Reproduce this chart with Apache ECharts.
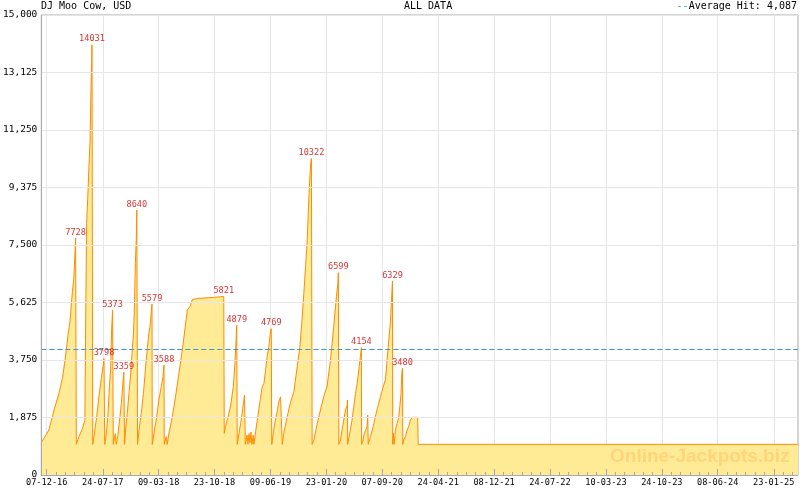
<!DOCTYPE html>
<html><head><meta charset="utf-8">
<script src="https://cdn.jsdelivr.net/npm/echarts@6/dist/echarts.min.js"></script>
<style>html,body{margin:0;padding:0;background:#fff}#c{width:800px;height:490px}</style>
</head><body><div id="c"></div>
<script>
const chartTitle = 'DJ Moo Cow, USD';
const rangeTitle = 'ALL DATA';
const averageHit = 4087;

const dates = [
  '2016-11-17','2016-11-26','2016-12-16','2017-01-06','2017-01-26','2017-02-09','2017-02-20','2017-03-04','2017-03-12','2017-03-22','2017-03-28','2017-04-01','2017-04-04','2017-04-07',
  '2017-04-18','2017-05-02','2017-05-12','2017-05-15','2017-05-19','2017-05-25','2017-05-29','2017-06-02','2017-06-06','2017-06-10','2017-06-13',
  '2017-06-18','2017-06-29','2017-07-08','2017-07-18','2017-07-25','2017-07-29','2017-08-01',
  '2017-08-09','2017-08-14','2017-08-20','2017-08-25','2017-08-29','2017-09-02','2017-09-05',
  '2017-09-13','2017-09-17','2017-09-23','2017-10-02','2017-10-08','2017-10-13','2017-10-18','2017-10-21',
  '2017-10-25','2017-11-01','2017-11-08','2017-11-15','2017-11-22','2017-11-26','2017-11-30','2017-12-04','2017-12-08','2017-12-10','2017-12-13',
  '2017-12-19','2017-12-28','2018-01-06','2018-01-15','2018-01-22','2018-01-28','2018-02-02','2018-02-07','2018-02-10','2018-02-11',
  '2018-02-18','2018-03-01','2018-03-10','2018-03-20','2018-03-27','2018-03-31','2018-04-01','2018-04-09','2018-04-13',
  '2018-04-20','2018-05-04','2018-05-17','2018-05-31','2018-06-14','2018-06-24','2018-07-04','2018-07-15','2018-07-25','2018-08-19','2018-10-19','2018-11-30','2018-12-02',
  '2018-12-07','2018-12-14','2018-12-21','2018-12-28','2019-01-08','2019-01-14','2019-01-20','2019-01-22','2019-01-24',
  '2019-01-27','2019-01-31','2019-02-07','2019-02-13','2019-02-20','2019-02-23','2019-02-26',
  '2019-03-05','2019-03-09','2019-03-13','2019-03-17','2019-03-21','2019-03-25','2019-03-30','2019-04-02',
  '2019-04-09','2019-04-16','2019-04-22','2019-04-29','2019-05-06','2019-05-13','2019-05-20','2019-05-26','2019-06-02','2019-06-09','2019-06-12','2019-06-14',
  '2019-06-22','2019-06-29','2019-07-06','2019-07-13','2019-07-20','2019-07-24','2019-07-27',
  '2019-08-02','2019-08-16','2019-08-30','2019-09-12','2019-09-26','2019-10-07','2019-10-16','2019-10-23','2019-10-30','2019-11-06','2019-11-11','2019-11-16','2019-11-20','2019-11-23','2019-11-26',
  '2019-12-03','2019-12-17','2019-12-30','2020-01-12','2020-01-26','2020-02-09','2020-02-22','2020-03-04','2020-03-10','2020-03-12','2020-03-14',
  '2020-03-21','2020-03-27','2020-04-03','2020-04-10','2020-04-17','2020-04-18','2020-04-19',
  '2020-04-30','2020-05-07','2020-05-14','2020-05-21','2020-05-28','2020-06-05','2020-06-10','2020-06-14','2020-06-15',
  '2020-06-21','2020-06-26','2020-07-02','2020-07-07','2020-07-10','2020-07-12',
  '2020-07-21','2020-08-01','2020-08-10','2020-08-20','2020-08-31','2020-09-13','2020-09-20','2020-09-27','2020-10-04','2020-10-11','2020-10-15','2020-10-19','2020-10-20',
  '2020-10-23','2020-10-26','2020-10-31','2020-11-07','2020-11-13','2020-11-18','2020-11-23','2020-11-26','2020-11-29','2020-11-30',
  '2020-12-04','2020-12-11','2020-12-18','2020-12-24','2020-12-31','2021-01-07','2021-01-30','2021-02-01','2025-05-02'
];
const jackpot = [
  1080,1200,1470,2120,2660,3150,3750,4560,5000,5980,6450,7170,7728,1000,
  1250,1520,1790,4890,8200,9290,10160,10870,12660,14031,1000,
  1250,1900,2550,3150,3530,3798,1000,
  1470,1960,2880,3420,4730,5373,1000,
  1350,1000,1250,1900,2340,2880,3359,1000,
  1470,2010,2660,3320,4130,4560,5380,6900,7770,8640,1000,
  1470,2010,2660,3530,4130,4620,4840,5320,5579,1000,
  1360,1900,2450,2880,3210,3588,1000,1250,1000,
  1360,1900,2550,3320,4080,4730,5380,5490,5720,5760,5790,5821,1360,
  1575,1790,2010,2250,2880,3560,4510,4879,1000,
  1140,1140,1685,2010,2450,2608,1000,
  1300,1000,1350,1050,1400,1000,1300,1000,
  1410,1790,2120,2500,2880,2990,3420,3860,4180,4670,4769,1000,
  1470,1790,2060,2390,2550,2608,1000,
  1360,1900,2390,2700,3530,4180,5110,5920,6790,7660,8750,9620,10160,10322,1000,
  1140,1690,2120,2550,2900,3750,4840,5810,6250,6599,1000,
  1140,1470,1790,2120,2280,2445,1000,
  1470,1790,2230,2660,2990,3530,3860,4154,1000,
  1140,1360,1470,1575,1956,1000,
  1250,1575,1900,2230,2550,2930,3100,3750,4400,5050,5700,6329,1000,
  1360,1000,1470,1690,1850,2230,2660,3320,3480,1000,
  1140,1250,1470,1575,1790,1880,1880,1000,1000
];

const peakDates = ['2017-04-04','2017-06-10','2017-07-29','2017-09-02','2017-10-18','2017-12-10','2018-02-10','2018-03-31','2018-11-30','2019-01-22','2019-06-12','2019-11-23','2020-03-12','2020-06-14','2020-10-19','2020-11-29'];
const peakValues = [7728,14031,3798,5373,3359,8640,5579,3588,5821,4879,4769,10322,6599,4154,6329,3480];

const xTickDates = ['2016-12-07','2017-07-24','2018-03-09','2018-10-23','2019-06-09','2020-01-23','2020-09-07','2021-04-24','2021-12-08','2022-07-24','2023-03-10','2023-10-24','2024-06-08','2025-01-23'];
const xTickLabels = ['07-12-16','24-07-17','09-03-18','23-10-18','09-06-19','23-01-20','07-09-20','24-04-21','08-12-21','24-07-22','10-03-23','24-10-23','08-06-24','23-01-25'];
const xStart = '2016-11-15';
const xEnd = '2025-05-02';
const yMax = 15000;
const yStep = 1875;

function ts(s) { const p = s.split('-').map(Number); return Date.UTC(p[0], p[1] - 1, p[2]); }

const tickTs = xTickDates.map(ts);
const minorTs = [];
const minT = ts(xStart), maxT = ts(xEnd);
const avgGap = (tickTs[tickTs.length - 1] - tickTs[0]) / (tickTs.length - 1);
for (let i = -1; i < tickTs.length; i++) {
  const a = i < 0 ? tickTs[0] - avgGap : tickTs[i];
  const b = i + 1 < tickTs.length ? tickTs[i + 1] : tickTs[i] + avgGap;
  for (let k = 1; k < 6; k++) {
    const t = Math.round(a + (b - a) * k / 6);
    if (t > minT && t < maxT) minorTs.push(t);
  }
}

const mono = 'DejaVu Sans Mono';
const chart = echarts.init(document.getElementById('c'), null, { renderer: 'canvas' });
chart.setOption({
  animation: false,
  backgroundColor: '#ffffff',
  title: [
    { text: chartTitle, left: 41, top: 1, padding: 0, textStyle: { fontFamily: mono, fontSize: 10, fontWeight: 'normal', color: '#000' } },
    { text: rangeTitle, left: 404, top: 1, padding: 0, textStyle: { fontFamily: mono, fontSize: 10, fontWeight: 'normal', color: '#000' } },
    { text: '{d|--}Average Hit: ' + averageHit.toLocaleString('en-US'), right: 3, top: 1, padding: 0,
      textStyle: { fontFamily: mono, fontSize: 10, fontWeight: 'normal', color: '#000',
        rich: { d: { fontFamily: mono, fontSize: 10, color: '#3c96c8' } } } }
  ],
  grid: { left: 40, right: 2, top: 15, bottom: 15, show: true, borderColor: '#a8a8a8', borderWidth: 1, backgroundColor: '#fff' },
  xAxis: [
    { type: 'value', min: minT, max: maxT, z: 5,
      axisLine: { show: true, lineStyle: { color: '#a8a8a8', width: 1 } },
      axisTick: { show: true, inside: true, length: 6, customValues: tickTs, lineStyle: { color: '#a8a8a8' } },
      axisLabel: { customValues: tickTs, margin: 3, fontFamily: mono, fontSize: 8.6, color: '#000',
        formatter: v => { const i = tickTs.indexOf(v); return i >= 0 ? xTickLabels[i] : ''; } },
      splitLine: { show: false }
    },
    { type: 'value', min: minT, max: maxT, position: 'bottom', z: 5,
      axisLine: { show: false },
      axisTick: { show: true, inside: true, length: 3, customValues: minorTs, lineStyle: { color: '#a8a8a8' } },
      axisLabel: { show: false },
      splitLine: { show: false }
    }
  ],
  yAxis: {
    type: 'value', min: 0, max: yMax, interval: yStep, z: 5,
    axisLine: { show: true, lineStyle: { color: '#a8a8a8', width: 1 } },
    axisTick: { show: false },
    axisLabel: { margin: 4, fontFamily: mono, fontSize: 9.5, color: '#000', formatter: v => v.toLocaleString('en-US') },
    splitLine: { show: true, lineStyle: { color: '#e6e6e6', width: 1 } }
  },
  series: [
    { type: 'line', name: 'Grid', xAxisIndex: 0, data: [], silent: true,
      markLine: { silent: true, symbol: 'none', label: { show: false }, z: 0,
        lineStyle: { color: '#e6e6e6', width: 1, type: 'solid' },
        data: tickTs.map(t => ({ xAxis: t })) }
    },
    { type: 'line', name: 'Jackpot', xAxisIndex: 0, z: 3,
      data: dates.map((d, i) => [ts(d), jackpot[i]]),
      symbol: 'none', lineStyle: { color: '#ff8c00', width: 1 },
      areaStyle: { color: '#ffea96', opacity: 1 },
      markLine: { silent: true, symbol: 'none', label: { show: false },
        lineStyle: { color: '#3c96c8', width: 1, type: [5, 3] },
        data: [{ yAxis: averageHit }] }
    },
    { type: 'scatter', name: 'Peaks', xAxisIndex: 0, symbolSize: 0, z: 6,
      data: peakDates.map((d, i) => [ts(d), peakValues[i]]),
      label: { show: true, position: 'top', distance: 1, formatter: p => String(p.value[1]),
        fontFamily: mono, fontSize: 8.6, color: '#cc0000' }
    }
  ],
  graphic: [
    { type: 'text', left: 610, top: 447, z: 100, silent: true,
      style: { text: 'Online-Jackpots.biz', font: 'bold 19px "Liberation Sans", Arial, sans-serif', fill: '#ffd47a' } }
  ]
});
</script></body></html>
